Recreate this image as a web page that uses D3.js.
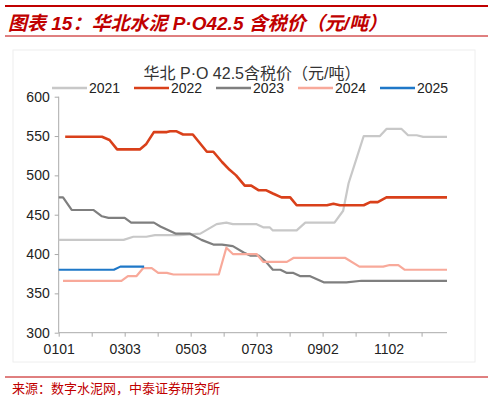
<!DOCTYPE html><html><head><meta charset="utf-8"><script src="https://cdn.jsdelivr.net/npm/d3@7"></script>
<style>body{margin:0;background:#fff}svg{font-family:Arial,"Liberation Sans","Noto Sans CJK SC",sans-serif}</style></head><body><svg id="c" width="493" height="400"></svg><script>
const series=["2021","2022","2023","2024","2025"];
const colors=["#c8c8c8","#d9401a","#7f7f7f","#f8a99a","#1f78c8"];
const tickLabels=["0101","","0303","","0503","","0703","","0902","","1102",""];
const s2021=[[0,418],[60,418],[69,422],[81,422],[89,424],[112,424],[131,426],[146,438],[155,440],[161,438],[183,438],[189,434],[195,434],[198,430],[220,430],[228,440],[255,440],[263,455],[268,490],[275,520],[282,550],[297,550],[303,559],[317,559],[323,551],[331,551],[337,549],[359,549]];
const s2022=[[6,549],[40,549],[47,545],[54,533],[75,533],[81,540],[88,555],[100,555],[103,556],[109,556],[115,552],[124,552],[137,530],[143,530],[151,517],[158,507],[164,500],[172,487],[178,487],[185,481],[192,481],[198,477],[206,472],[214,472],[220,462],[248,462],[254,464],[260,462],[282,462],[288,466],[295,466],[303,472],[359,472]];
const s2023=[[0,472],[4,472],[12,456],[32,456],[40,448],[46,446],[61,446],[67,440],[88,440],[94,435],[108,426],[121,426],[132,418],[143,412],[151,412],[161,410],[171,402],[177,398],[185,398],[191,391],[198,380],[205,380],[211,376],[217,376],[223,372],[232,372],[245,364],[266,364],[280,366],[359,366]];
const s2024=[[4,366],[58,366],[64,372],[72,372],[78,382],[86,382],[92,376],[100,376],[106,374],[148,374],[155,408],[161,400],[183,400],[189,390],[211,390],[217,395],[265,395],[278,384],[300,384],[306,386],[314,386],[320,380],[359,380]];
const s2025=[[0,380],[51,380],[57,384],[79,384]];
const data=[s2021,s2022,s2023,s2024,s2025];
const yTicks=[300,350,400,450,500,550,600];
const svg=d3.select("#c");
const red="#c00000";
svg.append("rect").attr("x",5).attr("y",5).attr("width",483).attr("height",2).attr("fill",red);
svg.append("line").attr("x1",5).attr("x2",488).attr("y1",36).attr("y2",36).attr("stroke",red);
svg.append("text").attr("x",8).attr("y",30).attr("fill",red).attr("font-size",19).attr("font-weight","bold").attr("font-style","italic").text("图表 15：华北水泥 P·O42.5 含税价（元/吨）");
svg.append("rect").attr("x",13).attr("y",50).attr("width",462).attr("height",312).attr("fill","none").attr("stroke","#eee");
svg.append("line").attr("x1",5).attr("x2",488).attr("y1",377).attr("y2",377).attr("stroke",red);
svg.append("text").attr("x",12).attr("y",393).attr("fill",red).attr("font-size",13).attr("font-family","'Noto Sans CJK SC'").text("来源：数字水泥网，中泰证券研究所");
const x=d3.scaleLinear().domain([0,359]).range([58.7,447]);
const y=d3.scaleLinear().domain([300,600]).range([332.7,96.7]);
svg.append("text").attr("x",252).attr("y",79).attr("text-anchor","middle").attr("font-size",16).attr("fill","#333").text("华北 P·O 42.5含税价（元/吨）");
const xa=svg.append("g").attr("transform","translate(0,332.7)").call(d3.axisBottom(x).tickValues(d3.range(12).map(i=>i*30.5)).tickSize(4).tickFormat((d,i)=>tickLabels[i]));
xa.select(".domain").attr("stroke","#aaa").attr("d","M58.7,0H447");xa.selectAll(".tick line").attr("stroke","#aaa");
xa.selectAll("text").attr("font-size",14).attr("fill","#222").attr("dy","1em");
const ya=svg.append("g").attr("transform","translate(58.7,0)").call(d3.axisLeft(y).tickValues(yTicks).tickSize(4));
ya.select(".domain").attr("stroke","#aaa").attr("d","M0,96.7V332.7");ya.selectAll(".tick line").attr("stroke","#aaa");
ya.selectAll("text").attr("font-size",14).attr("fill","#222").attr("x",-9);
const line=d3.line().x(d=>x(d[0])).y(d=>y(d[1]));
data.forEach((d,i)=>svg.append("path").datum(d).attr("d",line).attr("fill","none").attr("stroke",colors[i]).attr("stroke-width",i===1?2.6:2.2).attr("stroke-linejoin","round"));
const lx=[52,134,216,298,380];
series.forEach((s,i)=>{const g=svg.append("g").attr("transform",`translate(${lx[i]},88)`);
g.append("line").attr("x1",0).attr("x2",35).attr("stroke",colors[i]).attr("stroke-width",2.5);
g.append("text").attr("x",37).attr("y",5).attr("font-size",14).attr("fill","#222").text(s);});
</script></body></html>
